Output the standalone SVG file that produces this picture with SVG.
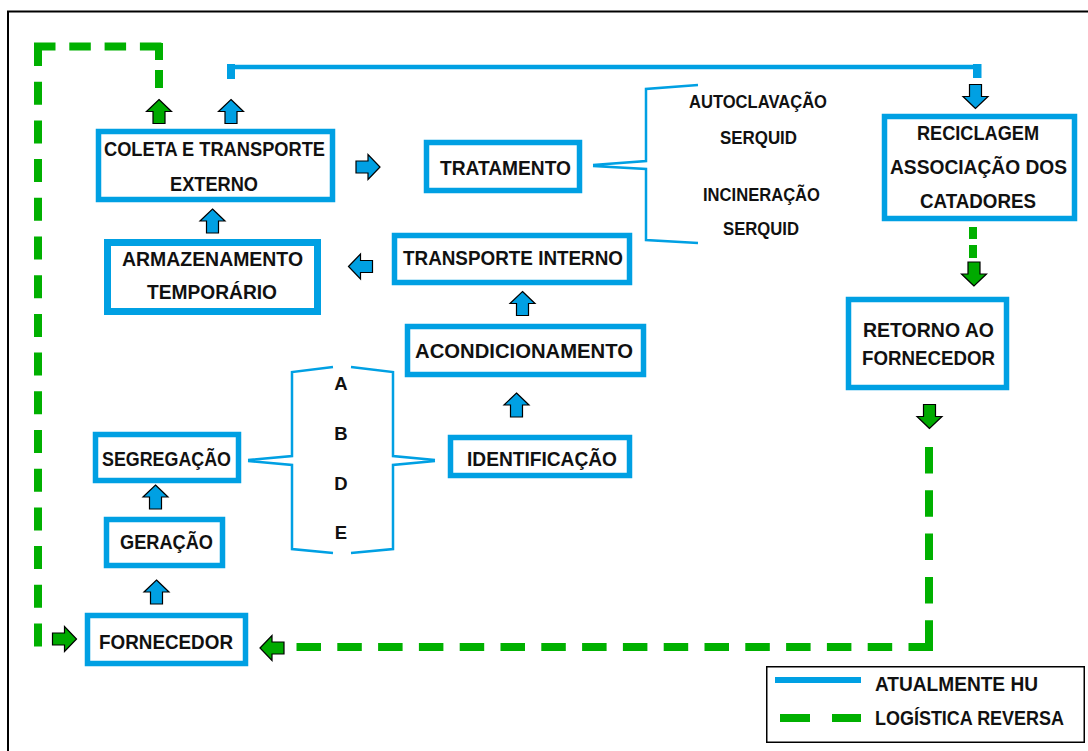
<svg xmlns="http://www.w3.org/2000/svg" xmlns:xlink="http://www.w3.org/1999/xlink" width="1088" height="751" viewBox="0 0 1088 751">
<style>
.box{fill:#ffffff;stroke:#00a0e3;stroke-width:5.5}
.t{font-family:"Liberation Sans",Arial,sans-serif;font-weight:bold;font-size:20.5px;fill:#111111;text-anchor:middle}
.s{font-family:"Liberation Sans",Arial,sans-serif;font-weight:bold;font-size:17.5px;fill:#111111;text-anchor:middle}
.lg{font-family:"Liberation Sans",Arial,sans-serif;font-weight:bold;font-size:20px;fill:#111111}
.blue{fill:none;stroke:#00a0e3;stroke-width:4.5}
.brace{fill:none;stroke:#00a0e3;stroke-width:2.5;stroke-linejoin:miter}
.green{fill:none;stroke:#00b000;stroke-width:8}
.ab{fill:#00a0e3;stroke:#000000;stroke-width:1.2}
.ag{fill:#00aa00;stroke:#000000;stroke-width:1.2}
</style>
<defs>
<path id="arrUp" d="M0,-12 L12.5,0 L6,0 L6,12 L-6,12 L-6,0 L-12.5,0 Z"/>
</defs>
<rect x="0" y="0" width="1088" height="751" fill="#ffffff"/>
<g id="frame" stroke="#000000" stroke-width="2" fill="none">
<line x1="7" y1="11.5" x2="1088" y2="11.5"/>
<line x1="8" y1="11" x2="8" y2="751"/>
</g>
<g id="connectors">
<line class="blue" x1="231" y1="67" x2="977" y2="67"/>
<rect x="227" y="64" width="8" height="15" fill="#00a0e3"/>
<rect x="973" y="64" width="8.5" height="14" fill="#00a0e3"/>
<path class="green" d="M34,46.5 H163" stroke-dasharray="21.5 13.8"/>
<path class="green" d="M38,43 V647" stroke-dasharray="23 15.7"/>
<path class="green" d="M159,43 V88" stroke-dasharray="17 10 18"/>
<path class="green" d="M973,227 V258" stroke-dasharray="12 6 13"/>
<path class="green" d="M929,447 V651" stroke-dasharray="26.5 16.8"/>
<path class="green" d="M933,647 H296" stroke-dasharray="24.5 16.3"/>
<path class="brace" d="M593,165 L646,161 L646,89 L698,85 M593,166 L646,169 L646,240 L698,243"/>
<path class="brace" d="M248,460 L292,456 L292,372 L333,367 M248,461 L292,465 L292,549 L333,553"/>
<path class="brace" d="M435,460 L393,456 L393,372 L351,367 M435,461 L393,465 L393,549 L351,553"/>
<use xlink:href="#arrUp" class="ag" transform="translate(159,111.5)"/>
<use xlink:href="#arrUp" class="ab" transform="translate(231,111.5)"/>
<use xlink:href="#arrUp" class="ab" transform="translate(212.5,221)"/>
<use xlink:href="#arrUp" class="ab" transform="translate(522.5,303.5)"/>
<use xlink:href="#arrUp" class="ab" transform="translate(516.5,405)"/>
<use xlink:href="#arrUp" class="ab" transform="translate(155.5,497)"/>
<use xlink:href="#arrUp" class="ab" transform="translate(156.5,592)"/>
<use xlink:href="#arrUp" class="ab" transform="translate(368,167) rotate(90)"/>
<use xlink:href="#arrUp" class="ag" transform="translate(64.5,639) rotate(90)"/>
<use xlink:href="#arrUp" class="ab" transform="translate(360.5,266.5) rotate(-90)"/>
<use xlink:href="#arrUp" class="ag" transform="translate(272,648) rotate(-90)"/>
<use xlink:href="#arrUp" class="ab" transform="translate(975.5,96.5) rotate(180)"/>
<use xlink:href="#arrUp" class="ag" transform="translate(974,274) rotate(180)"/>
<use xlink:href="#arrUp" class="ag" transform="translate(929.5,416.5) rotate(180)"/>
</g>
<g id="coleta">
<rect class="box" x="98.5" y="131.5" width="234" height="68"/>
<text class="t" x="214.5" y="155.5" textLength="221" lengthAdjust="spacingAndGlyphs">COLETA E TRANSPORTE</text>
<text class="t" x="214" y="190.5" textLength="88" lengthAdjust="spacingAndGlyphs">EXTERNO</text>
</g>
<g id="armazenamento">
<rect class="box" x="107.5" y="242.5" width="210" height="69" style="stroke-width:7"/>
<text class="t" x="212.5" y="265.5" textLength="181" lengthAdjust="spacingAndGlyphs">ARMAZENAMENTO</text>
<text class="t" x="212" y="298.5" textLength="130" lengthAdjust="spacingAndGlyphs">TEMPORÁRIO</text>
</g>
<g id="tratamento">
<rect class="box" x="426.5" y="142.5" width="153" height="48"/>
<text class="t" x="505.5" y="174.5" textLength="131" lengthAdjust="spacingAndGlyphs">TRATAMENTO</text>
</g>
<g id="tratamento-opcoes">
<text class="s" x="758" y="107.5" textLength="138" lengthAdjust="spacingAndGlyphs">AUTOCLAVAÇÃO</text>
<text class="s" x="758.5" y="143.5" textLength="77" lengthAdjust="spacingAndGlyphs">SERQUID</text>
<text class="s" x="761.5" y="200.5" textLength="117" lengthAdjust="spacingAndGlyphs">INCINERAÇÃO</text>
<text class="s" x="761" y="234.5" textLength="76" lengthAdjust="spacingAndGlyphs">SERQUID</text>
</g>
<g id="transporte-interno">
<rect class="box" x="394.5" y="235.5" width="235" height="47"/>
<text class="t" x="513" y="264.5" textLength="220" lengthAdjust="spacingAndGlyphs">TRANSPORTE INTERNO</text>
</g>
<g id="acondicionamento">
<rect class="box" x="407.5" y="326.5" width="236" height="48"/>
<text class="t" x="524" y="357.5" textLength="218" lengthAdjust="spacingAndGlyphs">ACONDICIONAMENTO</text>
</g>
<g id="identificacao">
<rect class="box" x="450.5" y="437.5" width="179" height="38"/>
<text class="t" x="542" y="465.5" textLength="150" lengthAdjust="spacingAndGlyphs">IDENTIFICAÇÃO</text>
</g>
<g id="grupos">
<text class="s" x="341" y="389.5" style="font-size:18.5px">A</text>
<text class="s" x="341" y="439.5" style="font-size:18.5px">B</text>
<text class="s" x="341" y="489.5" style="font-size:18.5px">D</text>
<text class="s" x="341" y="538.5" style="font-size:18.5px">E</text>
</g>
<g id="segregacao">
<rect class="box" x="95.5" y="434.5" width="143" height="46"/>
<text class="t" x="166.5" y="465.5" textLength="129" lengthAdjust="spacingAndGlyphs">SEGREGAÇÃO</text>
</g>
<g id="geracao">
<rect class="box" x="106.5" y="519.5" width="116" height="46"/>
<text class="t" x="166.5" y="548.5" textLength="93" lengthAdjust="spacingAndGlyphs">GERAÇÃO</text>
</g>
<g id="fornecedor">
<rect class="box" x="87.5" y="615.5" width="158" height="48"/>
<text class="t" x="166" y="648.5" textLength="134" lengthAdjust="spacingAndGlyphs">FORNECEDOR</text>
</g>
<g id="reciclagem">
<rect class="box" x="884.5" y="116.5" width="190" height="102"/>
<text class="t" x="978" y="139.5" textLength="122" lengthAdjust="spacingAndGlyphs">RECICLAGEM</text>
<text class="t" x="978.5" y="173.5" textLength="177" lengthAdjust="spacingAndGlyphs">ASSOCIAÇÃO DOS</text>
<text class="t" x="978" y="207.5" textLength="116" lengthAdjust="spacingAndGlyphs">CATADORES</text>
</g>
<g id="retorno">
<rect class="box" x="848.5" y="299.5" width="158" height="88"/>
<text class="t" x="928.5" y="337" textLength="131" lengthAdjust="spacingAndGlyphs">RETORNO AO</text>
<text class="t" x="928.5" y="365" textLength="133" lengthAdjust="spacingAndGlyphs">FORNECEDOR</text>
</g>
<g id="legend">
<rect x="766.75" y="666.75" width="317.5" height="75.5" fill="#ffffff" stroke="#000000" stroke-width="1.5"/>
<line x1="775" y1="680" x2="861" y2="680" stroke="#00a0e3" stroke-width="6"/>
<rect x="780" y="714" width="30" height="8" fill="#00b000"/>
<rect x="832" y="714" width="29" height="8" fill="#00b000"/>
<text class="lg" x="875" y="690.5" textLength="163" lengthAdjust="spacingAndGlyphs">ATUALMENTE HU</text>
<text class="lg" x="875" y="724.5" textLength="189" lengthAdjust="spacingAndGlyphs">LOGÍSTICA REVERSA</text>
</g>
</svg>
